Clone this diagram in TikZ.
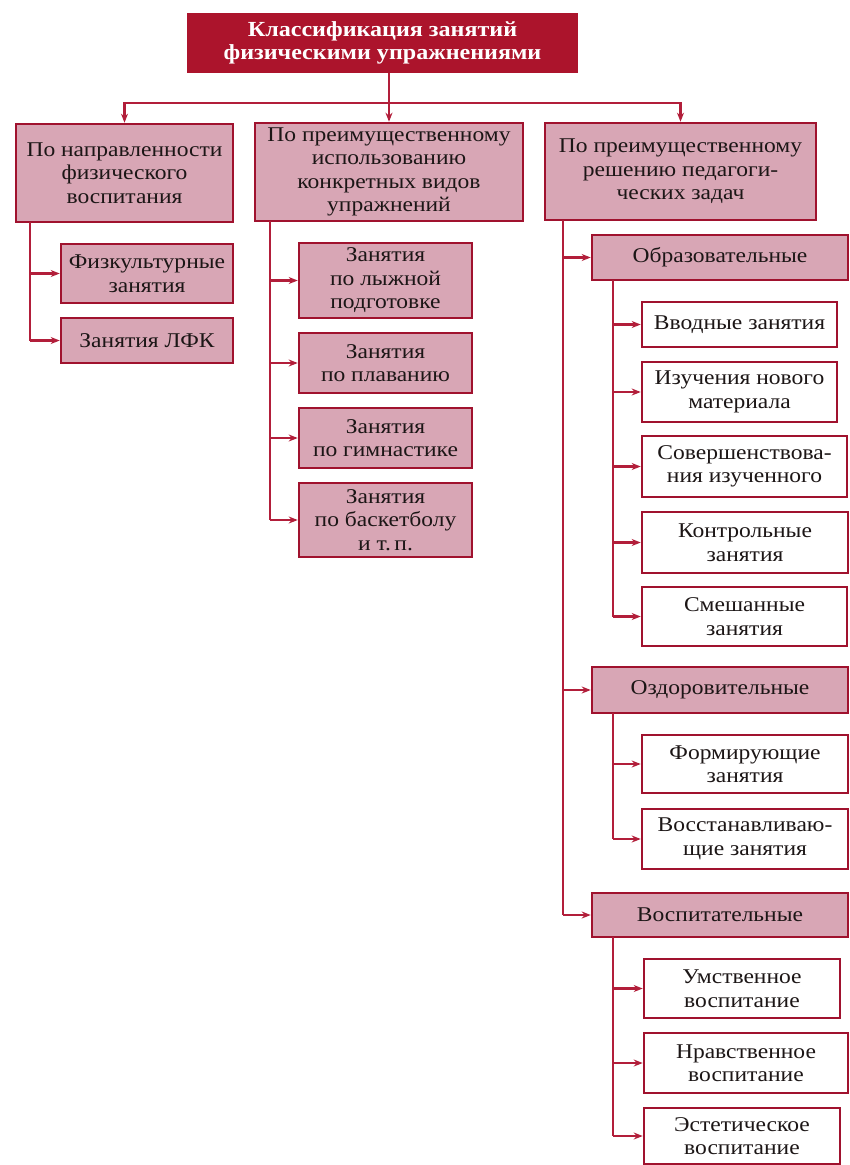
\documentclass[tikz,border=0pt]{standalone}
\usepackage{fontspec}
\setmainfont[FakeStretch=1.12]{Liberation Serif}
\usetikzlibrary{arrows.meta}
\definecolor{titlered}{RGB}{172,20,44}
\definecolor{linered}{RGB}{178,30,58}
\definecolor{borderred}{RGB}{160,18,46}
\definecolor{pinkfill}{RGB}{216,166,181}
\definecolor{inkgrey}{RGB}{28,22,22}
\tikzset{
  every node/.style={font=\fontsize{21}{23.5}\selectfont, text=inkgrey, align=center, inner sep=0pt},
  titlebox/.style={fill=titlered, draw=none, text=white, font=\fontsize{21.5}{23}\selectfont\bfseries},
  pinkbox/.style={fill=pinkfill, draw=borderred, line width=2.6pt},
  whitebox/.style={fill=white, draw=borderred, line width=2.6pt},
  link/.style={draw=linered, line width=2.1pt},
  arr/.style={link, -{Stealth[length=9pt,width=7pt]}}
}
\begin{document}
\begin{tikzpicture}[x=1pt,y=-1pt]
\useasboundingbox (0,0) rectangle (850,1165);
\fill[white] (0,0) rectangle (850,1165);

% title
\node[titlebox, minimum width=391pt, minimum height=60pt] (title) at (382.5,43)
  {Классификация занятий\\физическими упражнениями};

% level 1
\node[pinkbox, minimum width=217pt, minimum height=98pt] (b1) at (124.5,173)
  {По направленности\\физического\\воспитания};
\node[pinkbox, minimum width=268pt, minimum height=98pt] (b2) at (389,172)
  {По преимущественному\\использованию\\конкретных видов\\упражнений};
\node[pinkbox, minimum width=271pt, minimum height=97pt] (b3) at (680.5,171.5)
  {По преимущественному\\решению педагоги-\\ческих задач};

% column 1
\node[pinkbox, minimum width=172pt, minimum height=59pt] (fiz) at (147,273.5)
  {Физкультурные\\занятия};
\node[pinkbox, minimum width=172pt, minimum height=45pt] (lfk) at (147,340.5)
  {Занятия ЛФК};

% column 2
\node[pinkbox, minimum width=173pt, minimum height=75pt] (ski) at (385.5,280.5)
  {Занятия\\по лыжной\\подготовке};
\node[pinkbox, minimum width=173pt, minimum height=60pt] (swim) at (385.5,363)
  {Занятия\\по плаванию};
\node[pinkbox, minimum width=173pt, minimum height=60pt] (gym) at (385.5,438)
  {Занятия\\по гимнастике};
\node[pinkbox, minimum width=173pt, minimum height=74pt] (bask) at (385.5,520)
  {Занятия\\по баскетболу\\и т.\,п.};

% column 3
\node[pinkbox, minimum width=256pt, minimum height=45pt] (obr) at (720,257.5)
  {Образовательные};
\node[whitebox, minimum width=195pt, minimum height=45pt] (vvod) at (739.5,324.5)
  {Вводные занятия};
\node[whitebox, minimum width=195pt, minimum height=60pt] (izuch) at (739.5,392)
  {Изучения нового\\материала};
\node[whitebox, minimum width=205pt, minimum height=61pt] (sov) at (744.5,466.5)
  {Совершенствова-\\ния изученного};
\node[whitebox, minimum width=206pt, minimum height=61pt] (kontr) at (745,542.5)
  {Контрольные\\занятия};
\node[whitebox, minimum width=205pt, minimum height=59pt] (smesh) at (744.5,616.5)
  {Смешанные\\занятия};

\node[pinkbox, minimum width=256pt, minimum height=46pt] (ozd) at (720,690)
  {Оздоровительные};
\node[whitebox, minimum width=206pt, minimum height=58pt] (form) at (745,764)
  {Формирующие\\занятия};
\node[whitebox, minimum width=206pt, minimum height=60pt] (vosst) at (745,839)
  {Восстанавливаю-\\щие занятия};

\node[pinkbox, minimum width=256pt, minimum height=44pt] (vosp) at (720,915)
  {Воспитательные};
\node[whitebox, minimum width=196pt, minimum height=59pt] (umst) at (742,988.5)
  {Умственное\\воспитание};
\node[whitebox, minimum width=204pt, minimum height=60pt] (nrav) at (746,1063)
  {Нравственное\\воспитание};
\node[whitebox, minimum width=196pt, minimum height=56pt] (estet) at (742,1136)
  {Эстетическое\\воспитание};

% connectors: top
\coordinate (hub) at (389,103);
\draw[link] (title.south -| hub) -- (hub);
\draw[arr] (hub) -| (b1.north);
\draw[arr] (hub) -| (b3.north);
\draw[arr] (hub) -- (b2.north);

% trunks
\coordinate (t1) at (30,222);
\coordinate (t2) at (270,221);
\coordinate (t3) at (563,220);
\coordinate (t4) at (613,280);
\coordinate (t5) at (613,713);
\coordinate (t6) at (613,937);

\draw[link] (t1) -- (t1 |- lfk.west);
\draw[arr] (t1 |- fiz.west) -- (fiz.west);
\draw[arr] (t1 |- lfk.west) -- (lfk.west);

\draw[link] (t2) -- (t2 |- bask.west);
\draw[arr] (t2 |- ski.west) -- (ski.west);
\draw[arr] (t2 |- swim.west) -- (swim.west);
\draw[arr] (t2 |- gym.west) -- (gym.west);
\draw[arr] (t2 |- bask.west) -- (bask.west);

\draw[link] (t3) -- (t3 |- vosp.west);
\draw[arr] (t3 |- obr.west) -- (obr.west);
\draw[arr] (t3 |- ozd.west) -- (ozd.west);
\draw[arr] (t3 |- vosp.west) -- (vosp.west);

\draw[link] (t4) -- (t4 |- smesh.west);
\draw[arr] (t4 |- vvod.west) -- (vvod.west);
\draw[arr] (t4 |- izuch.west) -- (izuch.west);
\draw[arr] (t4 |- sov.west) -- (sov.west);
\draw[arr] (t4 |- kontr.west) -- (kontr.west);
\draw[arr] (t4 |- smesh.west) -- (smesh.west);

\draw[link] (t5) -- (t5 |- vosst.west);
\draw[arr] (t5 |- form.west) -- (form.west);
\draw[arr] (t5 |- vosst.west) -- (vosst.west);

\draw[link] (t6) -- (t6 |- estet.west);
\draw[arr] (t6 |- umst.west) -- (umst.west);
\draw[arr] (t6 |- nrav.west) -- (nrav.west);
\draw[arr] (t6 |- estet.west) -- (estet.west);
\end{tikzpicture}
\end{document}
